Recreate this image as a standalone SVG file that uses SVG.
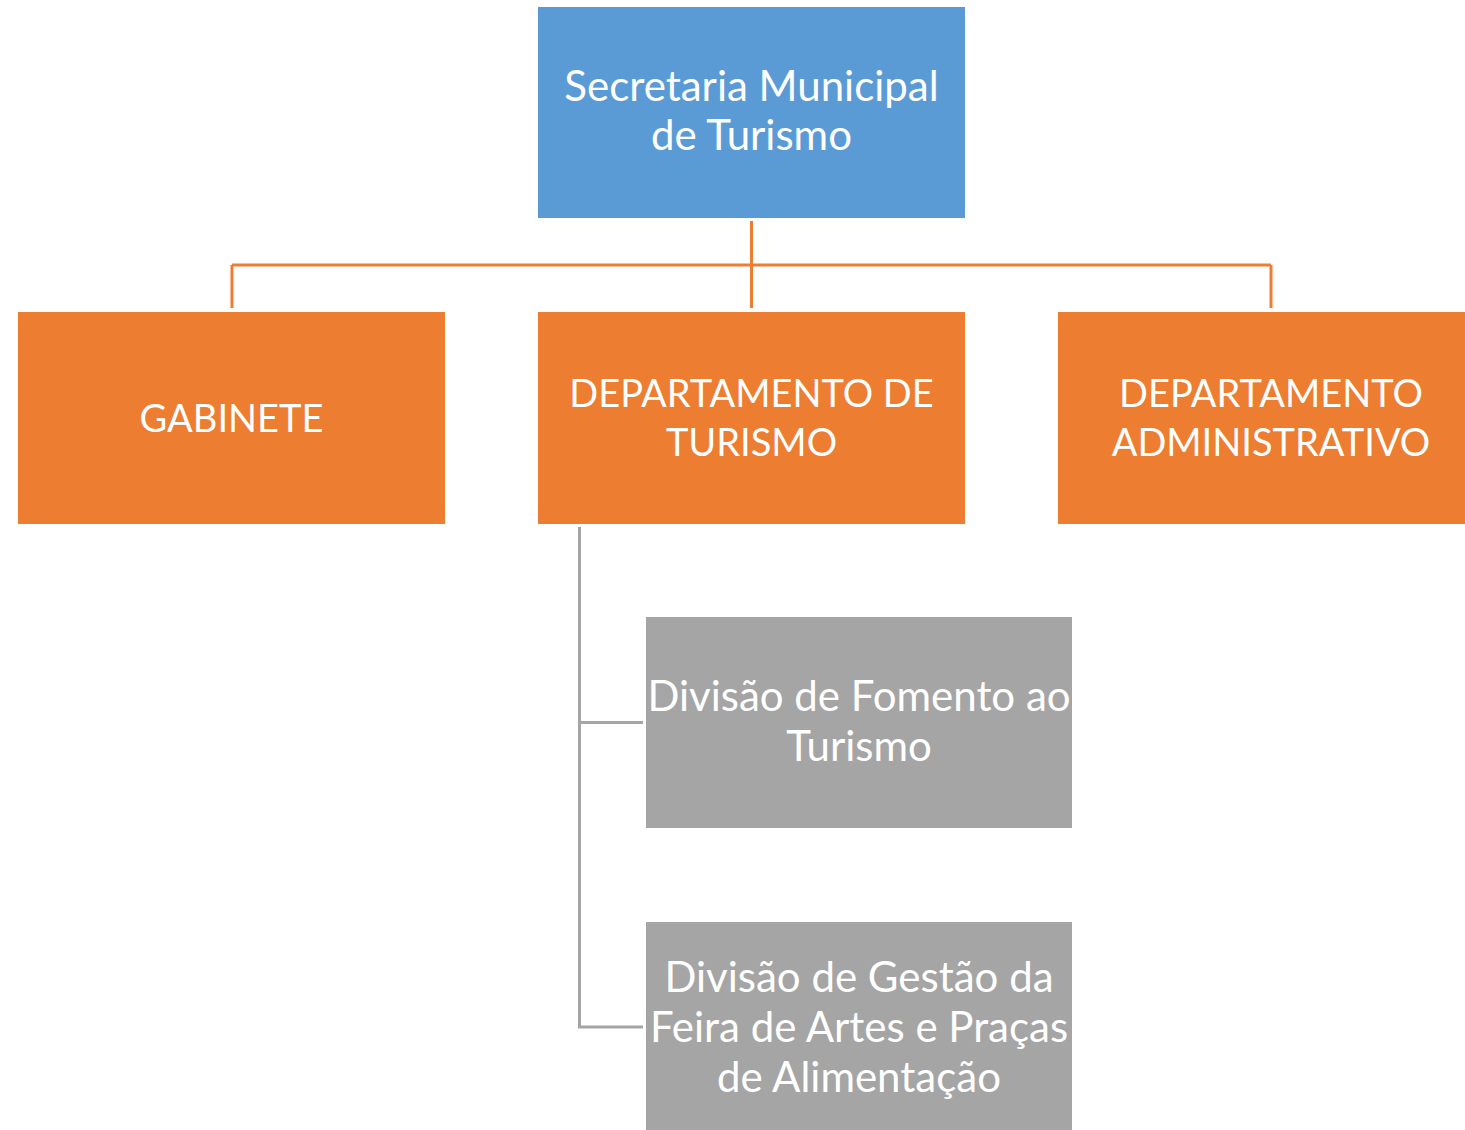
<svg xmlns="http://www.w3.org/2000/svg" width="1465" height="1130" viewBox="0 0 1465 1130">
<style>
.t{font-family:Lato,"Open Sans","Liberation Sans",sans-serif;font-size:42px;fill:#fff;text-anchor:middle}
.u{font-size:38px}
.blue{fill:#5B9BD5}
.org{fill:#ED7D31}
.gry{fill:#A5A5A5}
.co{fill:none;stroke:#ED7D31;stroke-width:3}
.cg{fill:none;stroke:#A5A5A5;stroke-width:3}
</style>
<rect width="1465" height="1130" fill="#fff"/>
<g id="connectors">
<path class="co" d="M751.5 221V308M232 265H1271M232 265V308M1271 265V308"/>
<path class="cg" d="M579.5 527V1027H643M579.5 722.5H643"/>
</g>
<g id="n-secretaria">
<rect class="blue" x="538" y="7" width="427" height="211"/>
<text class="t" x="751.5" y="101">Secretaria Municipal</text>
<text class="t" x="751.5" y="150">de Turismo</text>
</g>
<g id="n-gabinete">
<rect class="org" x="18" y="312" width="427" height="212"/>
<text class="t u" x="231.5" y="432">GABINETE</text>
</g>
<g id="n-dep-turismo">
<rect class="org" x="538" y="312" width="427" height="212"/>
<text class="t u" x="751.5" y="407">DEPARTAMENTO DE</text>
<text class="t u" x="751.5" y="456">TURISMO</text>
</g>
<g id="n-dep-admin">
<rect class="org" x="1058" y="312" width="407" height="212"/>
<text class="t u" x="1271" y="407">DEPARTAMENTO</text>
<text class="t u" x="1271" y="456">ADMINISTRATIVO</text>
</g>
<g id="n-div-fomento">
<rect class="gry" x="646" y="617" width="426" height="211"/>
<text class="t" x="859" y="711">Divisão de Fomento ao</text>
<text class="t" x="859" y="761">Turismo</text>
</g>
<g id="n-div-gestao">
<rect class="gry" x="646" y="922" width="426" height="208"/>
<text class="t" x="859" y="992">Divisão de Gestão da</text>
<text class="t" x="859" y="1042">Feira de Artes e Praças</text>
<text class="t" x="859" y="1092">de Alimentação</text>
</g>
</svg>
